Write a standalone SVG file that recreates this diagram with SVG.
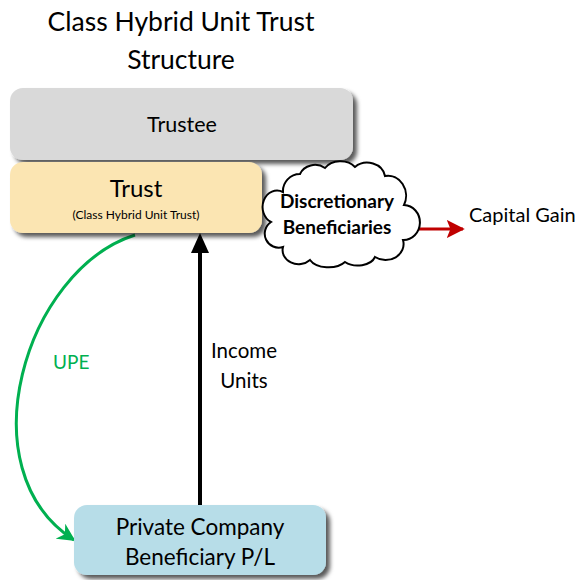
<svg xmlns="http://www.w3.org/2000/svg" width="575" height="580" viewBox="0 0 575 580">
  <style>
    text { font-family: "Lato", "Open Sans", "Liberation Sans", sans-serif; fill: #000; text-anchor: middle; }
    .box { filter: url(#shadow); }
    .conn { fill: none; }
  </style>
  <defs>
    <filter id="shadow" x="-10%" y="-10%" width="125%" height="130%">
      <feDropShadow dx="4" dy="4" stdDeviation="2" flood-color="#000" flood-opacity="0.65"/>
    </filter>
    <marker id="headGreen" viewBox="0 0 10 10" refX="9" refY="5" markerWidth="18" markerHeight="18" orient="auto" markerUnits="userSpaceOnUse">
      <path d="M0,0 L10,5 L0,10 L3,5 Z" fill="#00b050"/>
    </marker>
    <marker id="headRed" viewBox="0 0 10 10" refX="9" refY="5" markerWidth="18" markerHeight="18" orient="auto" markerUnits="userSpaceOnUse">
      <path d="M0,0 L10,5 L0,10 L2,5 Z" fill="#c00000"/>
    </marker>
  </defs>

  <!-- title -->
  <text x="181" y="31" font-size="26.5">Class Hybrid Unit Trust</text>
  <text x="181" y="69" font-size="26.5">Structure</text>

  <!-- connectors -->
  <g id="connectors">
    <path class="conn" d="M135,235 C25,270 -35,470 74,540" stroke="#00b050" stroke-width="3" marker-end="url(#headGreen)"/>
    <line x1="200" y1="505" x2="200" y2="252" stroke="#000" stroke-width="4"/>
    <path d="M200,233 L209,253 L191,253 Z" fill="#000"/>
    <line x1="416" y1="229" x2="463" y2="229" stroke="#c00000" stroke-width="3" marker-end="url(#headRed)"/>
    <text x="53" y="369" font-size="19" style="fill:#00b050;text-anchor:start">UPE</text>
    <text x="244" y="358" font-size="20.5">Income</text>
    <text x="244" y="388" font-size="20.5">Units</text>
  </g>

  <g id="trustee">
    <rect class="box" x="10" y="88" width="343" height="72" rx="13" fill="#d9d9d9"/>
    <text x="182" y="132" font-size="21.5">Trustee</text>
  </g>

  <g id="trust">
    <rect class="box" x="10" y="162" width="252" height="71" rx="13" fill="#fbe5b2"/>
    <text x="136" y="197" font-size="24">Trust</text>
    <text x="136" y="219" font-size="12">(Class Hybrid Unit Trust)</text>
  </g>

  <g id="discretionary">
    <path d="M283,192 A17,17 0 0 1 300,174 A16,14 0 0 1 325,168 A18,14 0 0 1 355,167 A18,16 0 0 1 385,176 A18,20 0 0 1 404,205 A15,16 0 0 1 403,240 A18,16 0 0 1 375,257 A18,12 0 0 1 345,262 A20,12 0 0 1 310,260 A16,14 0 0 1 283,247 A14,14 0 0 1 271,222 A14,16 0 0 1 283,192 Z" fill="#fff" stroke="#000" stroke-width="2"/>
    <text x="337" y="208" font-size="19" font-weight="bold">Discretionary</text>
    <text x="337" y="234" font-size="19" font-weight="bold">Beneficiaries</text>
  </g>

  <g id="capital-gain">
    <text x="469" y="222" font-size="20" style="text-anchor:start">Capital Gain</text>
  </g>

  <g id="private-company">
    <rect class="box" x="74" y="505" width="252" height="70" rx="13" fill="#b7dde8"/>
    <text x="200" y="535" font-size="22.5">Private Company</text>
    <text x="200" y="565" font-size="22.5">Beneficiary P/L</text>
  </g>
</svg>
